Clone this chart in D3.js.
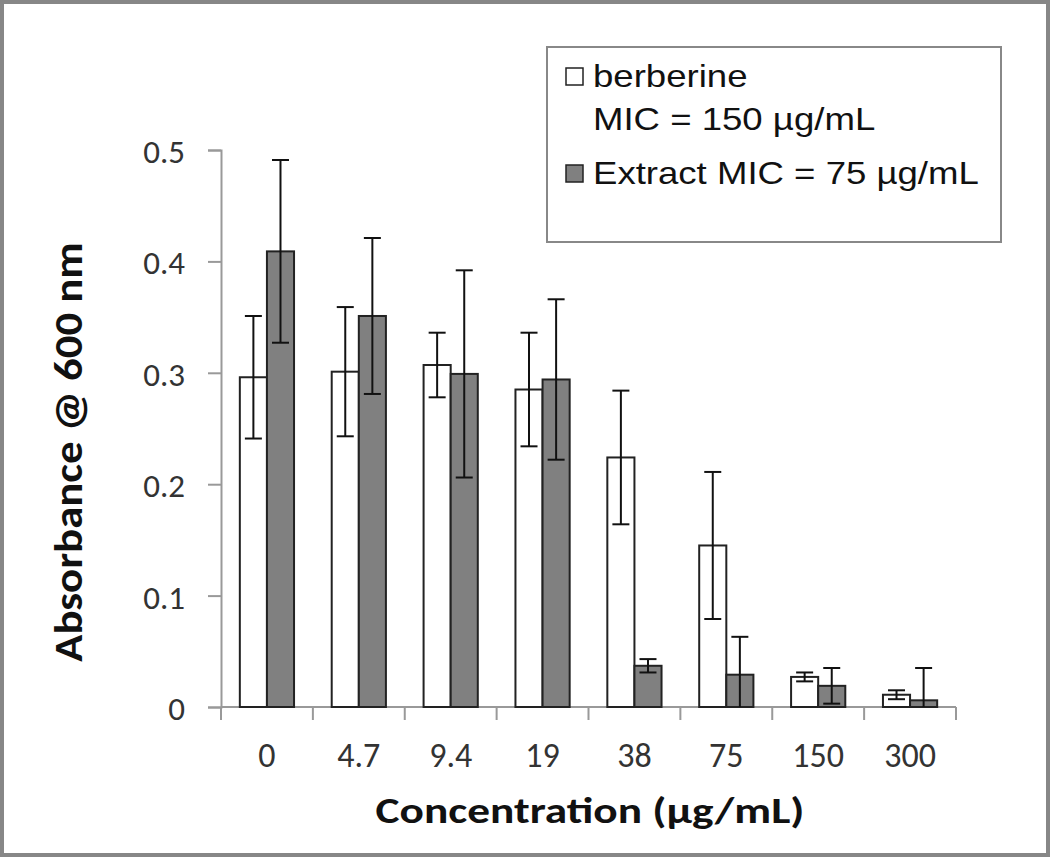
<!DOCTYPE html>
<html>
<head>
<meta charset="utf-8">
<script src="https://cdn.jsdelivr.net/npm/d3@7"></script>
<style>
  body { margin: 0; background: #fff; }
  svg { display: block; }
</style>
</head>
<body>
<div id="chart"></div>
<script>
// concentrations (µg/mL) and the two series
const concentrations = ["0", "4.7", "9.4", "19", "38", "75", "150", "300"];
const series = ["berberine", "extract"];
const berberineMean = [0.296, 0.301, 0.307, 0.285, 0.224, 0.145, 0.027, 0.011];
const berberineErr  = [0.055, 0.058, 0.029, 0.051, 0.060, 0.066, 0.004, 0.004];
const extractMean   = [0.409, 0.351, 0.299, 0.294, 0.037, 0.029, 0.019, 0.006];
const extractErr    = [0.082, 0.070, 0.093, 0.072, 0.006, 0.034, 0.016, 0.029];
const yTicks = [0, 0.1, 0.2, 0.3, 0.4, 0.5];
const legendLines = [["berberine", "MIC = 150 µg/mL"], ["Extract MIC = 75 µg/mL"]];

const W = 1050, H = 857;
const calibri = "Carlito, Calibri, Lato, 'Open Sans', sans-serif";
const arial = "'Liberation Sans', Arial, sans-serif";
const fills = { berberine: "#ffffff", extract: "#808080" };

const svg = d3.select("#chart").append("svg")
  .attr("width", W)
  .attr("height", H);

// outer frame
svg.append("rect")
  .attr("x", 2).attr("y", 2)
  .attr("width", W - 4).attr("height", H - 4)
  .attr("fill", "#fff")
  .attr("stroke", "#878787")
  .attr("stroke-width", 4);

const x = d3.scaleBand()
  .domain(concentrations)
  .range([221, 956])
  .paddingInner(0.41)
  .paddingOuter(0.205);

const xs = d3.scaleBand()
  .domain(series)
  .range([0, x.bandwidth()]);

const y = d3.scaleLinear()
  .domain([0, 0.5])
  .range([707, 150]);

const data = concentrations.flatMap((c, i) => [
  { c, s: "berberine", v: berberineMean[i], e: berberineErr[i] },
  { c, s: "extract", v: extractMean[i], e: extractErr[i] }
]);

// y axis
const yAxis = svg.append("g")
  .attr("transform", "translate(221,0)")
  .call(d3.axisLeft(y).tickValues(yTicks).tickSize(13).tickPadding(23)
    .tickFormat(d => d === 0 ? "0" : d3.format(".1f")(d)));
yAxis.select(".domain").attr("stroke", "#999").attr("stroke-width", 2);
yAxis.selectAll(".tick line").attr("stroke", "#999").attr("stroke-width", 2);
yAxis.selectAll(".tick text")
  .attr("font-family", calibri)
  .attr("font-size", 33)
  .attr("fill", "#333")
  .attr("dy", "0.38em");

// x axis: line plus ticks at category boundaries
const step = x.step();
const edges = concentrations.map(c => x(c) - (step - x.bandwidth()) / 2).concat([x.range()[1]]);
const xAxis = svg.append("g");
xAxis.append("line")
  .attr("x1", x.range()[0]).attr("x2", x.range()[1])
  .attr("y1", y(0)).attr("y2", y(0))
  .attr("stroke", "#999").attr("stroke-width", 2);
xAxis.selectAll(".edge").data(edges).join("line")
  .attr("x1", d => d).attr("x2", d => d)
  .attr("y1", y(0)).attr("y2", y(0) + 13)
  .attr("stroke", "#999").attr("stroke-width", 2);
xAxis.selectAll(".lab").data(concentrations).join("text")
  .attr("x", d => x(d) + x.bandwidth() / 2)
  .attr("y", 767)
  .attr("text-anchor", "middle")
  .attr("font-family", calibri)
  .attr("font-size", 34)
  .attr("fill", "#333")
  .text(d => d);

// bars
svg.append("g").selectAll("rect").data(data).join("rect")
  .attr("x", d => x(d.c) + xs(d.s))
  .attr("y", d => y(d.v))
  .attr("width", xs.bandwidth())
  .attr("height", d => y(0) - y(d.v))
  .attr("fill", d => fills[d.s])
  .attr("stroke", "#222")
  .attr("stroke-width", 2);

// error bars, lower end stops at the axis
const capW = 17;
const eb = svg.append("g").attr("stroke", "#111").attr("stroke-width", 2);
data.forEach(d => {
  const cx = x(d.c) + xs(d.s) + xs.bandwidth() / 2;
  const lo = Math.max(0, d.v - d.e), hi = d.v + d.e;
  eb.append("line").attr("x1", cx).attr("x2", cx).attr("y1", y(hi)).attr("y2", y(lo));
  eb.append("line").attr("x1", cx - capW / 2).attr("x2", cx + capW / 2).attr("y1", y(hi)).attr("y2", y(hi));
  if (d.v - d.e > 0) {
    eb.append("line").attr("x1", cx - capW / 2).attr("x2", cx + capW / 2).attr("y1", y(lo)).attr("y2", y(lo));
  }
});

// axis titles
svg.append("text")
  .attr("transform", "translate(82,452) rotate(-90) scale(1.12,1)")
  .attr("text-anchor", "middle")
  .attr("font-family", calibri)
  .attr("font-weight", "bold")
  .attr("font-size", 40)
  .attr("fill", "#111")
  .text("Absorbance @ 600 nm");

svg.append("text")
  .attr("transform", "translate(590,823) scale(1.26,1)")
  .attr("text-anchor", "middle")
  .attr("font-family", calibri)
  .attr("font-weight", "bold")
  .attr("font-size", 36)
  .attr("fill", "#111")
  .text("Concentration (µg/mL)");

// legend
const lg = svg.append("g");
lg.append("rect")
  .attr("x", 547).attr("y", 47)
  .attr("width", 454).attr("height", 195)
  .attr("fill", "#fff")
  .attr("stroke", "#888")
  .attr("stroke-width", 2);

const rowY = [87, 184];
series.forEach((s, i) => {
  lg.append("rect")
    .attr("x", 566).attr("y", rowY[i] - 19)
    .attr("width", 17).attr("height", 17)
    .attr("fill", fills[s])
    .attr("stroke", "#222")
    .attr("stroke-width", 1.5);
  legendLines[i].forEach((t, j) => {
    lg.append("text")
      .attr("transform", `translate(593,${rowY[i] + j * 43}) scale(1.18,1)`)
      .attr("font-family", arial)
      .attr("font-size", 31)
      .attr("fill", "#111")
      .text(t);
  });
});
</script>
</body>
</html>
